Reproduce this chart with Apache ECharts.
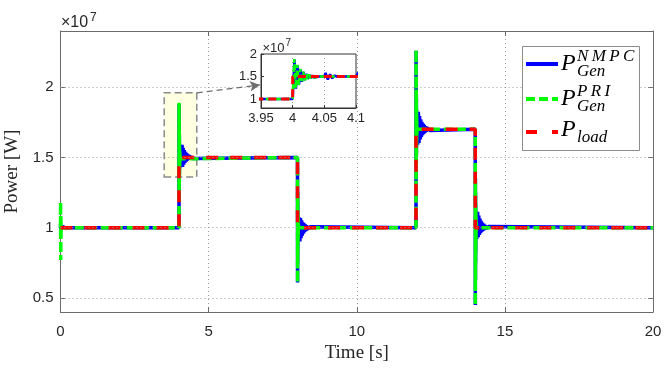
<!DOCTYPE html>
<html><head><meta charset="utf-8">
<script src="https://cdn.jsdelivr.net/npm/echarts@6/dist/echarts.min.js"></script>
<style>html,body{margin:0;padding:0;background:#fff}#c{width:665px;height:372px}</style>
</head><body><div id="c"></div>
<script>
// Power values in units of 1e7 W, time in seconds
const loadPoints = [[0,1],[4,1],[4,1.5],[8,1.5],[8,1],[12,1],[12,1.7],[14,1.7],[14,1],[20,1]];

const priPoints = [
  [0,1.0],[0.003,1.18],[0.008,0.77],[0.013,1.09],[0.018,0.93],[0.024,1.03],[0.03,1.0],
  [4.0,1.0],[4.0026,1.89],[4.0049,1.24],[4.0073,1.76],[4.0096,1.31],[4.012,1.67],[4.0143,1.37],[4.0167,1.61],[4.019,1.41],[4.0214,1.57],[4.0237,1.44],[4.026,1.545],[4.0284,1.46],[4.0308,1.53],[4.0331,1.475],[4.0355,1.515],[4.0378,1.49],[4.042,1.5],
  [8.0,1.5],[8.0026,0.61],[8.0049,1.26],[8.0073,0.74],[8.0096,1.19],[8.012,0.83],[8.0143,1.13],[8.0167,0.89],[8.019,1.09],[8.0214,0.93],[8.0237,1.06],[8.026,0.955],[8.03,1.03],[8.034,0.985],[8.04,1.0],
  [12.0,1.0],[12.0026,2.265],[12.0049,1.33],[12.0073,2.08],[12.0096,1.43],[12.012,1.95],[12.0143,1.52],[12.0167,1.86],[12.019,1.57],[12.0214,1.8],[12.0237,1.62],[12.026,1.76],[12.03,1.66],[12.034,1.72],[12.04,1.7],
  [14.0,1.7],[14.0026,0.45],[14.0049,1.36],[14.0073,0.62],[14.0096,1.26],[14.012,0.74],[14.0143,1.18],[14.0167,0.82],[14.019,1.12],[14.0214,0.88],[14.0237,1.08],[14.026,0.93],[14.03,1.04],[14.034,0.98],[14.04,1.0],
  [20,1.0]
];

const nmpcPoints = [
  [0,1.0],[0.004,1.025],[0.01,0.98],[0.02,1.015],[0.04,0.99],[0.08,1.008],[0.12,0.996],[0.15,1.0],
  // step at 4 s
  [4.0,1.0],[4.0028,1.88],[4.0052,1.23],[4.0076,1.75],[4.01,1.32],[4.0124,1.66],[4.0147,1.38],[4.017,1.6],[4.0194,1.42],[4.0218,1.56],[4.0241,1.45],[4.0265,1.535],[4.029,1.465],[4.0313,1.525],[4.0336,1.48],[4.036,1.512],[4.0385,1.49],[4.042,1.5],
  [4.05,1.5],[4.052,1.58],[4.0555,1.43],[4.059,1.55],[4.0625,1.46],[4.066,1.52],[4.07,1.5],[4.1,1.5],
  [4.104,1.59],[4.12,1.432],[4.14,1.568],[4.16,1.448],[4.18,1.552],[4.2,1.461],[4.22,1.539],[4.24,1.47],[4.26,1.53],[4.28,1.477],[4.3,1.522],[4.32,1.483],[4.34,1.517],[4.36,1.487],[4.38,1.512],[4.4,1.491],[4.42,1.509],[4.44,1.493],[4.46,1.505],[4.48,1.5],
  // step at 8 s
  [8.0,1.5],[8.0028,0.61],[8.0052,1.25],[8.0076,0.75],[8.01,1.18],[8.0124,0.84],[8.015,1.12],[8.018,0.9],[8.022,1.07],[8.027,0.95],[8.033,1.02],[8.042,1.0],
  [8.05,1.0],[8.052,0.91],[8.056,1.075],[8.06,0.95],[8.064,1.04],[8.068,1.0],
  [8.08,0.902],[8.1,1.068],[8.12,0.926],[8.14,1.052],[8.16,0.944],[8.18,1.039],[8.2,0.958],[8.22,1.03],[8.24,0.968],[8.26,1.023],[8.28,0.976],[8.3,1.017],[8.32,0.982],[8.34,1.013],[8.36,0.987],[8.38,1.01],[8.4,0.99],[8.42,1.007],[8.44,0.993],[8.46,1.005],[8.48,1.0],
  // step at 12 s
  [12.0,1.0],[12.0028,2.26],[12.0052,1.34],[12.0076,2.06],[12.01,1.45],[12.0124,1.93],[12.015,1.53],[12.018,1.84],[12.022,1.6],[12.027,1.77],[12.033,1.68],[12.042,1.7],
  [12.05,1.7],[12.052,1.825],[12.056,1.59],[12.06,1.77],[12.064,1.64],[12.068,1.7],
  [12.08,1.825],[12.1,1.603],[12.12,1.795],[12.14,1.628],[12.16,1.772],[12.18,1.645],[12.2,1.754],[12.22,1.659],[12.24,1.741],[12.26,1.668],[12.28,1.731],[12.3,1.676],[12.32,1.723],[12.34,1.682],[12.36,1.718],[12.38,1.687],[12.4,1.713],[12.42,1.69],[12.44,1.71],[12.46,1.692],[12.48,1.7],
  // step at 14 s
  [14.0,1.7],[14.0028,0.45],[14.0052,1.35],[14.0076,0.63],[14.01,1.25],[14.0124,0.75],[14.015,1.17],[14.018,0.83],[14.022,1.1],[14.027,0.93],[14.033,1.03],[14.042,1.0],
  [14.05,1.0],[14.052,0.92],[14.056,1.11],[14.06,0.95],[14.064,1.06],[14.068,1.0],
  [14.08,1.113],[14.1,0.932],[14.12,1.086],[14.14,0.948],[14.16,1.065],[14.18,0.961],[14.2,1.049],[14.22,0.97],[14.24,1.037],[14.26,0.977],[14.28,1.028],[14.3,0.983],[14.32,1.021],[14.34,0.987],[14.36,1.016],[14.38,0.99],[14.4,1.012],[14.42,0.993],[14.44,1.008],[14.46,0.995],[14.48,1.0],
  [20,1.0]
];

const xTicks = [0,5,10,15,20];
const yRange = [0.4,2.4];
const yTicks = [0.5,1,1.5,2];
const insetXTicks = [3.95,4,4.05,4.1];
const insetYRange = [0.8,2.0];
const insetYTicks = [1,1.5,2];
const zoomBox = [[3.5,1.36],[4.6,1.96]];
const arrowPath = [[4.6,1.96],[6.73,2.016]];

const SANS = '"Liberation Sans", Arial, sans-serif';
const SERIF = '"Liberation Serif", "Times New Roman", serif';
const AX = '#6a6a6a';
const TXT = '#262626';
const dotted = {type:[1,3], color:'#9a9a9a', width:1};
const BLUE = '#0000ff', GREEN = '#00ff00', RED = '#ff0000';

const chart = echarts.init(document.getElementById('c'), null, {renderer:'canvas'});

function lineSeries(data, xi, yi, color, width, dash, z) {
  return {type:'line', xAxisIndex:xi, yAxisIndex:yi, data:data, showSymbol:false, symbol:'none',
    lineStyle:{color:color, width:width, type:dash || 'solid', cap:'butt', join:'bevel'},
    silent:true, z:z, clip:true};
}

const option = {
  animation:false,
  grid:[
    {left:60.5, right:12, top:31, bottom:60, z:0, containLabel:false, outerBoundsMode:'none'},
    {left:261, top:54, width:95, height:54, show:true, backgroundColor:'#fff', borderColor:'#333', borderWidth:1, z:10, containLabel:false, outerBoundsMode:'none'}
  ],
  xAxis:[
    {gridIndex:0, type:'value', min:xTicks[0], max:xTicks[xTicks.length-1], interval:xTicks[1]-xTicks[0], position:'bottom',
     axisLine:{show:true, onZero:false, lineStyle:{color:AX}},
     axisTick:{show:true, inside:true, length:5, lineStyle:{color:AX}},
     axisLabel:{margin:12, fontSize:15, fontFamily:SANS, color:TXT},
     splitLine:{show:true, lineStyle:dotted},
     name:'Time [s]', nameLocation:'middle', nameGap:30,
     nameTextStyle:{fontSize:19, fontFamily:SERIF, color:TXT}},
    {gridIndex:0, type:'value', min:xTicks[0], max:xTicks[xTicks.length-1], interval:xTicks[1]-xTicks[0], position:'top',
     axisLine:{show:true, onZero:false, lineStyle:{color:AX}},
     axisTick:{show:true, inside:true, length:5, lineStyle:{color:AX}},
     axisLabel:{show:false}, splitLine:{show:false}},
    {gridIndex:1, type:'value', min:insetXTicks[0], max:insetXTicks[insetXTicks.length-1], interval:0.05, z:11,
     axisLine:{show:true, onZero:false, lineStyle:{color:'#333'}},
     axisTick:{show:true, inside:true, length:3, lineStyle:{color:'#333'}},
     axisLabel:{margin:4, fontSize:13, fontFamily:SANS, color:TXT, showMinLabel:true, showMaxLabel:true,
       formatter:v=>String(+(+v).toFixed(2))},
     splitLine:{show:true, lineStyle:dotted}}
  ],
  yAxis:[
    {gridIndex:0, type:'value', min:yRange[0], max:yRange[1], position:'left',
     axisLine:{show:true, onZero:false, lineStyle:{color:AX}},
     axisTick:{show:true, inside:true, length:5, lineStyle:{color:AX}, customValues:yTicks},
     axisLabel:{margin:7, fontSize:15, fontFamily:SANS, color:TXT, customValues:yTicks, formatter:v=>String(+(+v).toFixed(2))},
     splitLine:{show:false},
     name:'Power [W]', nameLocation:'middle', nameGap:35,
     nameTextStyle:{fontSize:19, fontFamily:SERIF, color:TXT}},
    {gridIndex:0, type:'value', min:yRange[0], max:yRange[1], position:'right',
     axisLine:{show:true, onZero:false, lineStyle:{color:AX}},
     axisTick:{show:true, inside:true, length:5, lineStyle:{color:AX}, customValues:yTicks},
     axisLabel:{show:false}, splitLine:{show:false}},
    {gridIndex:1, type:'value', min:insetYRange[0], max:insetYRange[1], z:11,
     axisLine:{show:true, onZero:false, lineStyle:{color:'#333'}},
     axisTick:{show:true, inside:true, length:3, lineStyle:{color:'#333'}, customValues:insetYTicks},
     axisLabel:{margin:4, fontSize:13, fontFamily:SANS, color:TXT, customValues:insetYTicks, formatter:v=>String(+(+v).toFixed(2))},
     splitLine:{show:false}}
  ],
  series:[
    {type:'line', xAxisIndex:0, yAxisIndex:0, data:[loadPoints[0]], symbol:'none', silent:true, z:1,
     lineStyle:{width:0},
     markLine:{silent:true, symbol:['none','none'], label:{show:false}, lineStyle:dotted, animation:false,
       data:yTicks.map(v=>({yAxis:v}))}},
    {type:'line', xAxisIndex:0, yAxisIndex:0, data:[loadPoints[0]], symbol:'none', silent:true, z:1,
     lineStyle:{width:0},
     markArea:{silent:true, label:{show:false},
       itemStyle:{color:'#ffffe2', borderColor:'#8a8a8a', borderWidth:1.5, borderType:[7,4]},
       data:[[{coord:zoomBox[0]},{coord:zoomBox[1]}]]},
     markLine:{silent:true, symbol:['none','arrow'], symbolSize:[8,10], label:{show:false}, animation:false,
       lineStyle:{color:'#6e6e6e', width:1.2, type:[6,4]},
       data:[[{coord:arrowPath[0]},{coord:arrowPath[1]}]]}},
    lineSeries(nmpcPoints,0,0,BLUE,3.5,null,2),
    lineSeries(priPoints,0,0,GREEN,3.5,[9,4],3),
    lineSeries(loadPoints,0,0,RED,3.5,[12,12],4),
    {type:'line', xAxisIndex:2, yAxisIndex:2, data:[[4,1]], symbol:'none', silent:true, z:11,
     lineStyle:{width:0},
     markLine:{silent:true, symbol:['none','none'], label:{show:false}, lineStyle:dotted, animation:false,
       data:insetYTicks.filter(v=>v<insetYRange[1]).map(v=>({yAxis:v}))}},
    lineSeries(nmpcPoints,2,2,BLUE,2.5,null,12),
    lineSeries(priPoints,2,2,GREEN,2.5,[6,3],13),
    lineSeries(loadPoints,2,2,RED,3,[8,5],14)
  ],
  graphic:[
    {type:'text', z:50, style:{text:'×10', x:61, y:23, font:'16px '+SANS, fill:TXT, align:'left', verticalAlign:'middle'}},
    {type:'text', z:50, style:{text:'7', x:90, y:18, font:'12px '+SANS, fill:TXT, align:'left', verticalAlign:'middle'}},
    {type:'text', z:50, style:{text:'×10', x:262.5, y:48, font:'13px '+SANS, fill:TXT, align:'left', verticalAlign:'middle'}},
    {type:'text', z:50, style:{text:'7', x:285.5, y:43, font:'10px '+SANS, fill:TXT, align:'left', verticalAlign:'middle'}},
    {type:'rect', z:50, shape:{x:522.5, y:46.5, width:117, height:104}, style:{fill:'#fff', stroke:'#8c8c8c', lineWidth:1}},
    {type:'line', z:51, shape:{x1:526, y1:64, x2:558, y2:64}, style:{stroke:BLUE, lineWidth:4}},
    {type:'line', z:51, shape:{x1:526, y1:99, x2:558, y2:99}, style:{stroke:GREEN, lineWidth:4, lineDash:[9,4]}},
    {type:'line', z:51, shape:{x1:526, y1:132, x2:558, y2:132}, style:{stroke:RED, lineWidth:4, lineDash:[11,15]}},
    {type:'text', z:51, style:{text:'P', x:561, y:64, font:'italic 24px '+SERIF, fill:'#000', align:'left', verticalAlign:'middle'}},
    {type:'text', z:51, style:{text:'N\u2009M\u2009P\u2009C', x:577, y:57, font:'italic 17px '+SERIF, fill:'#000', align:'left', verticalAlign:'middle'}},
    {type:'text', z:51, style:{text:'Gen', x:577, y:72, font:'italic 17px '+SERIF, fill:'#000', align:'left', verticalAlign:'middle'}},
    {type:'text', z:51, style:{text:'P', x:561, y:99, font:'italic 24px '+SERIF, fill:'#000', align:'left', verticalAlign:'middle'}},
    {type:'text', z:51, style:{text:'P\u2009R\u2009I', x:577, y:92, font:'italic 17px '+SERIF, fill:'#000', align:'left', verticalAlign:'middle'}},
    {type:'text', z:51, style:{text:'Gen', x:577, y:107, font:'italic 17px '+SERIF, fill:'#000', align:'left', verticalAlign:'middle'}},
    {type:'text', z:51, style:{text:'P', x:561, y:130, font:'italic 24px '+SERIF, fill:'#000', align:'left', verticalAlign:'middle'}},
    {type:'text', z:51, style:{text:'load', x:577, y:138, font:'italic 17px '+SERIF, fill:'#000', align:'left', verticalAlign:'middle'}}
  ]
};
chart.setOption(option);
</script></body></html>
